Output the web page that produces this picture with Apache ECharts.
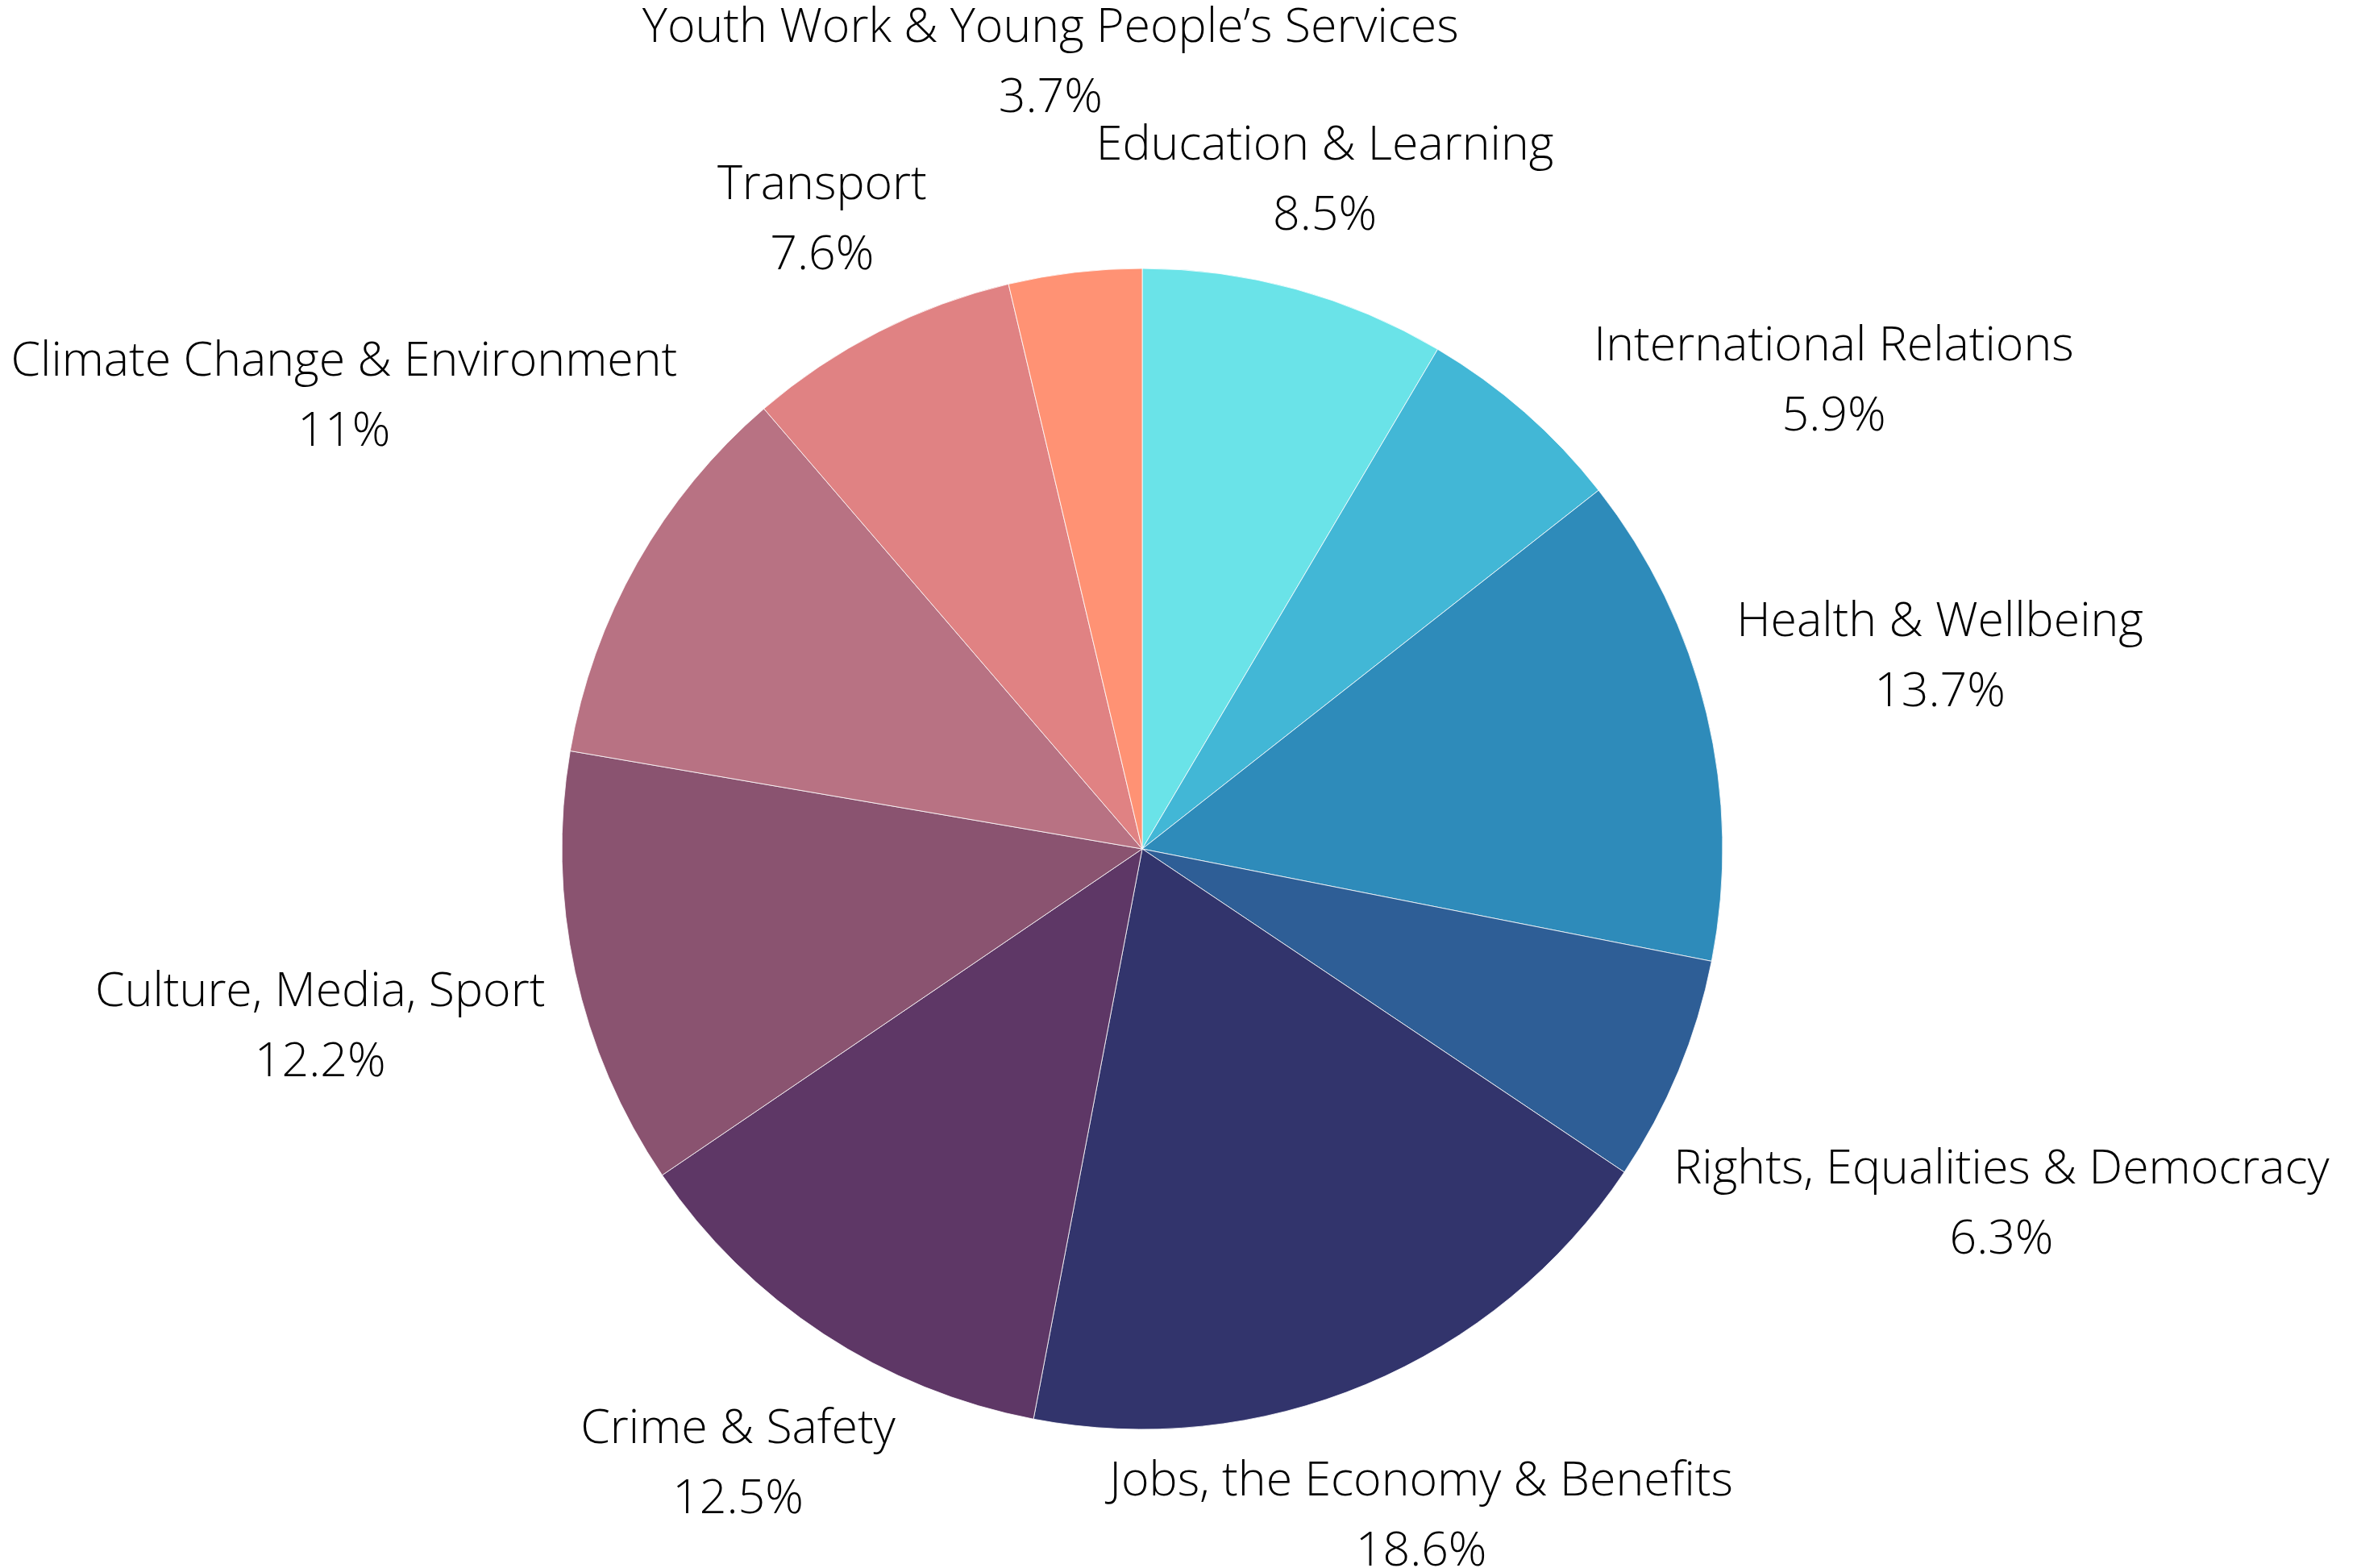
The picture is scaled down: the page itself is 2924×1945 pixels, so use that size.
<!DOCTYPE html>
<html>
<head>
<meta charset="utf-8">
<script src="https://cdn.jsdelivr.net/npm/echarts@6/dist/echarts.min.js"></script>
<style>
html,body{margin:0;padding:0;background:#fff;}
#chart{width:2924px;height:1945px;}
</style>
</head>
<body>
<div id="chart"></div>
<script>
// ---- data ----
const categories = [
  "Education & Learning",
  "International Relations",
  "Health & Wellbeing",
  "Rights, Equalities & Democracy",
  "Jobs, the Economy & Benefits",
  "Crime & Safety",
  "Culture, Media, Sport",
  "Climate Change & Environment",
  "Transport",
  "Youth Work & Young People\u2019s Services"
];
const shares = [8.5, 5.9, 13.7, 6.3, 18.6, 12.5, 12.2, 11, 7.6, 3.7];
const sliceColors = [
  "#6AE3E8", "#42B7D6", "#2E8BBA", "#2E5E96", "#32346C",
  "#5E3766", "#8A5370", "#B87283", "#E08283", "#FF9274"
];

// ---- layout settings ----
const W = 2924, H = 1945;
const CX = 1417, CY = 1053, R = 720;
const LABEL_GAP = 1.049 * R;     // nearest label point distance from centre
const ROT_CLEAR = 100;           // clearance used when a label is slid sideways
const ROT_MAX = 20;              // max sideways slide, degrees
const FONT = '"Open Sans"';
const WEIGHT = 300;
const REF_TEXT = "Climate Change & Environment";
const REF_WIDTH = 824;
const LINE_H = 87;

const cv = document.createElement('canvas').getContext('2d');
cv.font = WEIGHT + ' 100px ' + FONT;
const FONT_SIZE = Math.round(100 * REF_WIDTH / cv.measureText(REF_TEXT).width);
cv.font = WEIGHT + ' ' + FONT_SIZE + 'px ' + FONT;

const fmt = (name, v) => name + '\n' + v + '%';

// ---- label placement (box centred on the slice's radial line) ----
const total = shares.reduce((a, b) => a + b, 0);
function clamp0(a, b) { return Math.min(Math.max(0, a), b); }
function nearestDist(x, y, w, h) {
  return Math.hypot(clamp0(x - w, x + w), clamp0(y - h, y + h));
}
function baseDist(th, w, h) {
  const sx = Math.sin(th), sy = -Math.cos(th);
  let lo = 0, hi = 4 * R;
  for (let k = 0; k < 60; k++) {
    const D = (lo + hi) / 2;
    if (nearestDist(D * sx, D * sy, w, h) < LABEL_GAP) lo = D; else hi = D;
  }
  return hi;
}
function boxAt(th, D, w, h) {
  return { th, x: CX + D * Math.sin(th), y: CY - D * Math.cos(th), w, h };
}
function overlaps(a, b, pad) {
  return Math.abs(a.x - b.x) < a.w + b.w + pad && Math.abs(a.y - b.y) < a.h + b.h + pad;
}
function firstHit(b, list, pad) { return list.find(p => overlaps(b, p, pad || 0)); }
function angDiff(a, b) {
  let d = a - b;
  while (d > Math.PI) d -= 2 * Math.PI;
  while (d <= -Math.PI) d += 2 * Math.PI;
  return d;
}

const placed = [];
let cum = 0;
shares.forEach((v, i) => {
  const th = 2 * Math.PI * (cum + v / 2) / total;
  cum += v;
  const w = Math.max(cv.measureText(categories[i]).width, cv.measureText(v + '%').width) / 2;
  const h = (LINE_H + FONT_SIZE) / 2;
  let box = boxAt(th, baseDist(th, w, h), w, h);
  const hit = firstHit(box, placed);
  if (hit) {
    const sign = angDiff(th, hit.th) > 0 ? 1 : -1;
    let found = null;
    for (let s = 0.25; s <= ROT_MAX; s += 0.25) {
      const t2 = th + sign * s * Math.PI / 180;
      const b2 = boxAt(t2, baseDist(t2, w, h), w, h);
      if (!firstHit(b2, placed, ROT_CLEAR)) { found = b2; break; }
    }
    if (!found) {
      let D = baseDist(th, w, h);
      let b2 = boxAt(th, D, w, h);
      while (firstHit(b2, placed)) { D += 1; b2 = boxAt(th, D, w, h); }
      found = b2;
    }
    box = found;
    box.th = th;
  }
  placed.push(box);
});

const chart = echarts.init(document.getElementById('chart'), null, { renderer: 'canvas', width: W, height: H });
chart.setOption({
  backgroundColor: '#ffffff',
  animation: false,
  series: [{
    type: 'pie',
    center: [CX, CY],
    radius: R,
    startAngle: 90,
    clockwise: true,
    avoidLabelOverlap: false,
    data: categories.map((c, i) => ({ name: c, value: shares[i], itemStyle: { color: sliceColors[i] } })),
    itemStyle: { borderColor: 'rgba(255,255,255,0.8)', borderWidth: 1 },
    label: {
      show: true,
      position: 'inside',
      formatter: p => fmt(p.name, p.value),
      color: '#000',
      fontFamily: FONT,
      fontWeight: WEIGHT,
      fontSize: FONT_SIZE,
      lineHeight: LINE_H,
      align: 'center'
    },
    labelLine: { show: false },
    labelLayout: params => {
      const b = placed[params.dataIndex];
      return { x: b.x, y: b.y, align: 'center', verticalAlign: 'middle' };
    },
    emphasis: { disabled: true }
  }]
});
</script>
</body>
</html>
